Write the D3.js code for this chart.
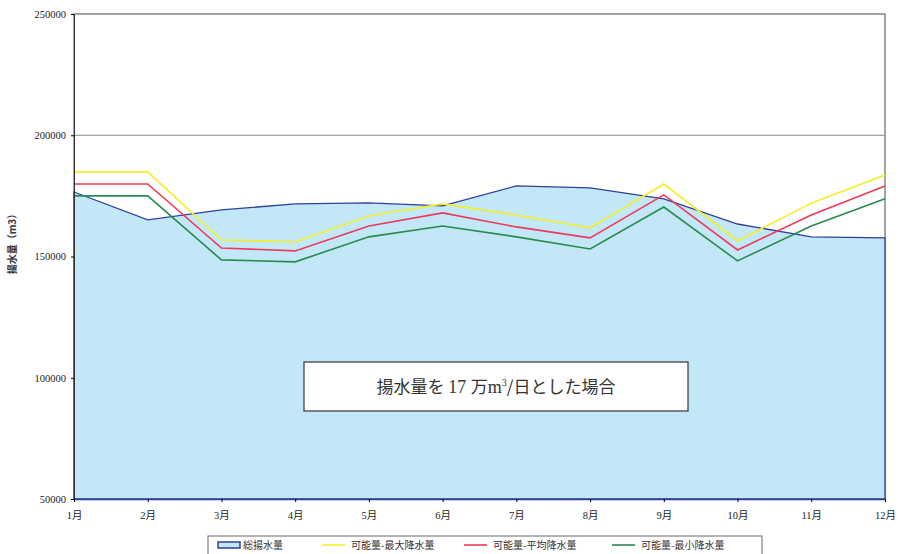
<!DOCTYPE html>
<html>
<head>
<meta charset="utf-8">
<script src="https://cdn.jsdelivr.net/npm/d3@7"></script>
<style>
  body { margin: 0; background: #fff; }
  svg text { font-family: "Liberation Serif", "Noto Sans CJK JP", serif; }
</style>
</head>
<body>
<div class="chart"></div>
<script>
const months = ["1月","2月","3月","4月","5月","6月","7月","8月","9月","10月","11月","12月"];
const totalPumping = [176600,165100,169200,171700,172100,170900,179100,178300,173800,163400,158100,157700];
const possibleMax  = [184900,184900,156800,156000,166700,171700,167100,161800,179900,156400,172000,183600];
const possibleAvg  = [179900,179900,153500,152300,162600,168000,162200,157700,175400,152700,167100,179100];
const possibleMin  = [175000,175000,148600,147800,158100,162600,158100,153100,170400,148200,162600,173800];
const yTicks = [50000,100000,150000,200000,250000];
const legendNames = ["総揚水量","可能量-最大降水量","可能量-平均降水量","可能量-最小降水量"];

const width = 899, height = 554;
const margin = {top: 14, right: 14, bottom: 55, left: 74};
const w = width - margin.left - margin.right,
  h = height - margin.top - margin.bottom;

const svg = d3.select(".chart").append("svg")
    .attr("width", width)
    .attr("height", height)
  .append("g")
    .attr("transform", "translate(" + margin.left + "," + margin.top + ")");

const x = d3.scalePoint().domain(months).range([0, w]);
const y = d3.scaleLinear().domain([50000, 250000]).range([h, 0]);

// frame + gridline
svg.append("rect")
    .attr("width", w).attr("height", h)
    .attr("fill", "none").attr("stroke", "#666").attr("stroke-width", 1.2);
svg.append("line")
    .attr("x1", 0).attr("x2", w)
    .attr("y1", y(200000)).attr("y2", y(200000))
    .attr("stroke", "#888").attr("stroke-width", 1.2);

// area for total pumping
const area = d3.area()
    .x((d, i) => x(months[i]))
    .y0(h)
    .y1(d => y(d));
svg.append("path")
    .datum(totalPumping)
    .attr("d", area)
    .attr("fill", "#c2e8f7")
    .attr("stroke", "#2f3f9e")
    .attr("stroke-width", 1.3);

const line = d3.line().x((d, i) => x(months[i])).y(d => y(d));
const series = [
  {vals: possibleMax, color: "#f4ee2a"},
  {vals: possibleAvg, color: "#ee3a5a"},
  {vals: possibleMin, color: "#2a8a4e"}
];
svg.selectAll(".series")
    .data(series)
  .enter().append("path")
    .attr("class", "series")
    .attr("d", d => line(d.vals))
    .attr("fill", "none")
    .attr("stroke", d => d.color)
    .attr("stroke-width", 1.6);

// axes
const yAxis = svg.append("g")
    .call(d3.axisLeft(y).tickValues(yTicks).tickSize(3).tickFormat(d3.format("d")));
yAxis.select(".domain").attr("stroke", "#333");
yAxis.selectAll("text").attr("font-size", 10.5).attr("fill", "#222").attr("dx", -2);

const xAxis = svg.append("g")
    .attr("transform", "translate(0," + h + ")")
    .call(d3.axisBottom(x).tickSize(3).tickSizeOuter(0));
xAxis.select(".domain").attr("stroke", "#2f3f9e").attr("stroke-width", 1.5);
xAxis.selectAll("text").attr("font-size", 10.5).attr("fill", "#222").attr("dy", "1.3em");

svg.append("text")
    .attr("transform", "translate(" + (-58) + "," + (h / 2 - 15) + ") rotate(-90)")
    .attr("text-anchor", "middle")
    .attr("font-size", 10)
    .attr("font-weight", "bold")
    .attr("fill", "#333")
    .style("font-family", "'Noto Sans CJK JP', sans-serif")
    .text("揚水量（m3）");

// annotation box
const note = svg.append("g").attr("transform", "translate(" + (304 - margin.left) + "," + (362 - margin.top) + ")");
note.append("rect")
    .attr("width", 384).attr("height", 49)
    .attr("fill", "#fff").attr("stroke", "#444").attr("stroke-width", 1.3);
const nt = note.append("text")
    .attr("x", 192).attr("y", 31)
    .attr("text-anchor", "middle")
    .attr("font-size", 17)
    .attr("fill", "#333");
nt.append("tspan").style("font-family", "'Noto Sans CJK JP', serif").text("揚水量を ");
nt.append("tspan").style("font-family", "'Liberation Serif', serif").attr("font-size", 18).text("17 ");
nt.append("tspan").style("font-family", "'Noto Sans CJK JP', serif").text("万");
nt.append("tspan").style("font-family", "'Liberation Serif', serif").attr("font-size", 18).text("m");
nt.append("tspan").style("font-family", "'Liberation Serif', serif").attr("font-size", 10).attr("dy", -7).text("3");
nt.append("tspan").style("font-family", "'Noto Sans CJK JP', serif").attr("dy", 7).text("/日とした場合");

// legend
const legend = d3.select("svg").append("g").attr("transform", "translate(208,536)");
legend.append("rect")
    .attr("width", 554).attr("height", 22)
    .attr("fill", "#fff").attr("stroke", "#666");
const legX = [10, 114, 256, 404];
const legItems = legend.selectAll(".leg")
    .data(legendNames)
  .enter().append("g")
    .attr("class", "leg")
    .attr("transform", (d, i) => "translate(" + legX[i] + ",0)");
legItems.each(function(d, i) {
  const g = d3.select(this);
  if (i === 0) {
    g.append("rect").attr("x", 0).attr("y", 6).attr("width", 22).attr("height", 6)
      .attr("fill", "#c2e8f7").attr("stroke", "#2f3f9e").attr("stroke-width", 1.5);
  } else {
    g.append("line").attr("x1", 0).attr("x2", 23).attr("y1", 9).attr("y2", 9)
      .attr("stroke", series[i - 1].color).attr("stroke-width", 1.6);
  }
  g.append("text").attr("x", i === 0 ? 25 : 29).attr("y", 13)
    .attr("font-size", 10).attr("fill", "#333")
    .style("font-family", "'Noto Sans CJK JP', sans-serif")
    .text(d);
});
</script>
</body>
</html>
